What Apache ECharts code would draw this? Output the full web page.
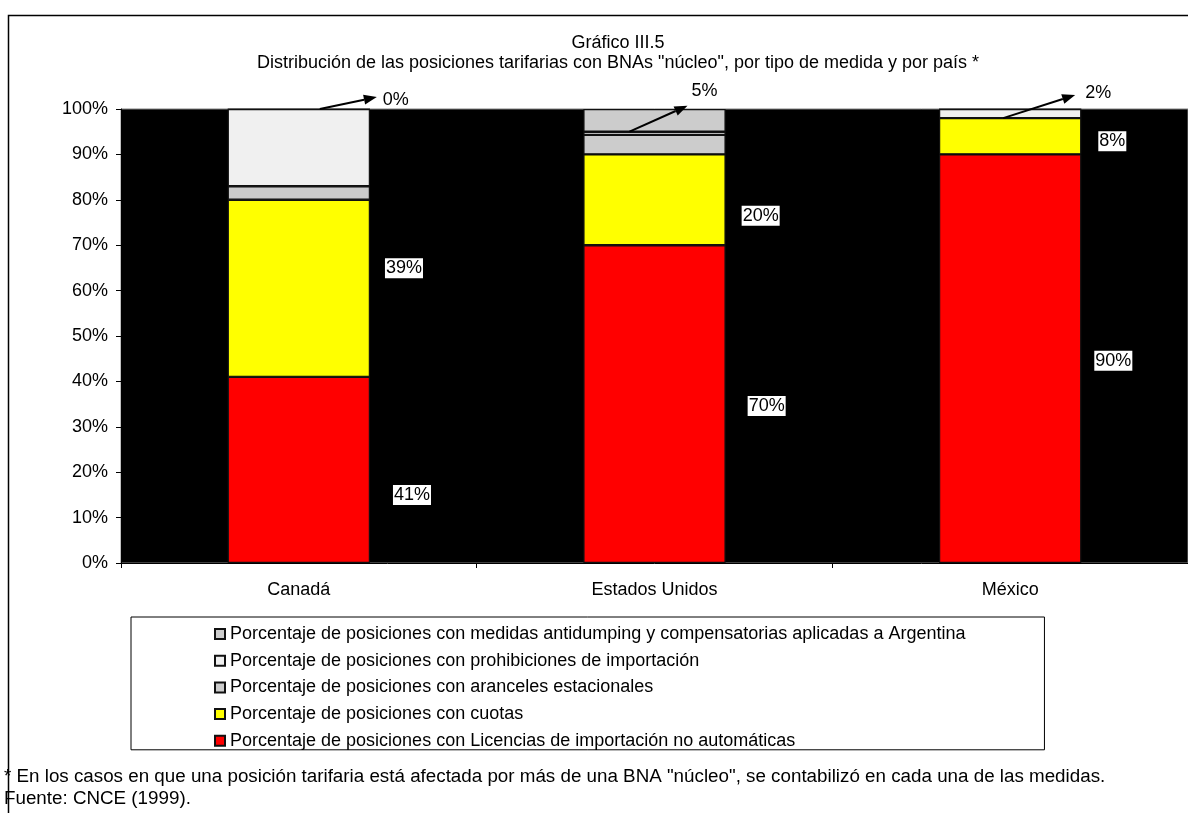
<!DOCTYPE html>
<html>
<head>
<meta charset="utf-8">
<script src="https://cdn.jsdelivr.net/npm/echarts@6/dist/echarts.min.js"></script>
<style>
  html, body { margin: 0; padding: 0; background: #fff; }
  #chart { width: 1188px; height: 813px; }
</style>
</head>
<body>
<div id="chart"></div>
<script>
// Países y porcentajes de posiciones por tipo de medida (suman 100% por país)
const countries     = ['Canadá', 'Estados Unidos', 'México'];
const licencias     = [41, 70, 90];
const cuotas        = [39, 20, 8];
const estacionales  = [3, 4.3, 0];
const prohibiciones = [17, 0.7, 2];
const antidumping   = [0, 5, 0];

// Serie cuyo valor se señala con flecha sobre cada barra
const calloutSeries = [4, 4, 3];

const seriesDefs = [
  { name: 'Porcentaje de posiciones con Licencias de importación no automáticas', data: licencias, color: '#ff0000' },
  { name: 'Porcentaje de posiciones con cuotas', data: cuotas, color: '#ffff00' },
  { name: 'Porcentaje de posiciones con aranceles estacionales', data: estacionales, color: '#cccccc' },
  { name: 'Porcentaje de posiciones con prohibiciones de importación', data: prohibiciones, color: '#f0f0f0' },
  { name: 'Porcentaje de posiciones con medidas antidumping y compensatorias aplicadas a Argentina', data: antidumping, color: '#cccccc' }
];

const FONT = '"Liberation Sans", Arial, sans-serif';
const FS = 18;

// Desplazamientos de las etiquetas laterales [serie][país]
const sideOffsets = [
  [[23, 25], [22, 2], [13, 2]],
  [[15, -20], [16, 16], [17, 5]]
];
// Desplazamientos de las etiquetas con flecha por país
const calloutLabelOffsets = [[97, 3], [50, -7], [88, -5]];
// Flechas: desplazamiento horizontal del origen y vector hasta la punta
const arrowGeom = [
  { sx: 21, dx: 57, dy: -12 },
  { sx: -25, dx: 58, dy: -26 },
  { sx: -7, dx: 72, dy: -23 }
];

const pct = v => Math.round(v) + '%';

const series = seriesDefs.map((s, si) => ({
  name: s.name,
  type: 'bar',
  stack: 'total',
  barWidth: '40%',
  itemStyle: { color: s.color, borderColor: '#111', borderWidth: 1.2 },
  emphasis: { disabled: true },
  data: s.data.map((v, ci) => {
    const item = { value: v };
    if (si < 2) {
      item.label = {
        show: true,
        position: 'right',
        distance: 0,
        offset: sideOffsets[si][ci],
        formatter: p => pct(p.value),
        color: '#000',
        fontFamily: FONT,
        fontSize: FS,
        lineHeight: 19,
        backgroundColor: '#fff',
        padding: [1, 1, 0, 1]
      };
    } else if (calloutSeries[ci] === si) {
      item.label = {
        show: true,
        position: 'top',
        distance: 2,
        offset: calloutLabelOffsets[ci],
        formatter: p => pct(p.value),
        color: '#000',
        fontFamily: FONT,
        fontSize: FS
      };
    }
    return item;
  })
}));

const chart = echarts.init(document.getElementById('chart'), null, { renderer: 'canvas' });

const option = {
  animation: false,
  backgroundColor: '#fff',
  textStyle: { fontFamily: FONT },
  title: {
    text: 'Gráfico III.5',
    subtext: 'Distribución de las posiciones tarifarias con BNAs "núcleo", por tipo de medida y por país *',
    left: 618,
    textAlign: 'center',
    top: 33,
    padding: 0,
    itemGap: 0,
    textStyle: { fontFamily: FONT, fontSize: FS, lineHeight: 20, fontWeight: 'normal', color: '#000' },
    subtextStyle: { fontFamily: FONT, fontSize: FS, lineHeight: 20, color: '#000' }
  },
  grid: {
    left: 121, right: -1, top: 109, bottom: 250,
    show: true, backgroundColor: '#000', borderColor: '#808080', borderWidth: 1
  },
  xAxis: {
    type: 'category',
    data: countries,
    axisLine: { show: true, lineStyle: { color: '#000' } },
    axisTick: { show: true, length: 5, lineStyle: { color: '#000' } },
    axisLabel: { color: '#000', fontFamily: FONT, fontSize: FS, margin: 18 }
  },
  yAxis: {
    type: 'value',
    min: 0, max: 100, interval: 10,
    axisLine: { show: true, lineStyle: { color: '#000' } },
    axisTick: { show: true, length: 5, lineStyle: { color: '#000' } },
    axisLabel: { color: '#000', fontFamily: FONT, fontSize: FS, margin: 13, formatter: '{value}%' },
    splitLine: { show: false }
  },
  legend: {
    orient: 'vertical',
    left: 131,
    top: 617,
    padding: [8, 79, 0, 83],
    borderColor: '#000',
    borderWidth: 1,
    itemWidth: 10,
    itemHeight: 10,
    itemGap: 8.7,
    icon: 'rect',
    selectedMode: false,
    data: seriesDefs.map(s => s.name).reverse(),
    textStyle: { color: '#000', fontFamily: FONT, fontSize: FS, lineHeight: 18 }
  },
  graphic: [
    {
      type: 'rect', z: 100, silent: true,
      shape: { x: 8.5, y: 15.5, width: 1300, height: 900 },
      style: { fill: null, stroke: '#000', lineWidth: 1.5 }
    },
    {
      type: 'text', left: 4, top: 767,
      style: {
        text: '* En los casos en que una posición tarifaria está afectada por más de una BNA "núcleo", se contabilizó en cada una de las medidas.',
        font: '18.8px ' + FONT, fill: '#000'
      }
    },
    {
      type: 'text', left: 4, top: 789,
      style: { text: 'Fuente: CNCE (1999).', font: '18.8px ' + FONT, fill: '#000' }
    }
  ],
  series: series
};

chart.setOption(option);

// Flechas que señalan el segmento superior de cada barra
function drawArrows() {
  const els = [];
  countries.forEach((c, ci) => {
    const si = calloutSeries[ci];
    let base = 0;
    for (let k = 0; k < si; k++) base += seriesDefs[k].data[ci];
    const p = chart.convertToPixel({ gridIndex: 0 }, [ci, base]);
    const g = arrowGeom[ci];
    const x1 = p[0] + g.sx, y1 = p[1];
    const x2 = x1 + g.dx, y2 = y1 + g.dy;
    const ang = Math.atan2(y2 - y1, x2 - x1);
    const L = 13, W = 5;
    const bx = x2 - L * Math.cos(ang), by = y2 - L * Math.sin(ang);
    const nx = -Math.sin(ang) * W, ny = Math.cos(ang) * W;
    els.push({
      type: 'line', z: 50, silent: true,
      shape: { x1: x1, y1: y1, x2: bx, y2: by },
      style: { stroke: '#000', lineWidth: 2 }
    });
    els.push({
      type: 'polygon', z: 50, silent: true,
      shape: { points: [[x2, y2], [bx + nx, by + ny], [bx - nx, by - ny]] },
      style: { fill: '#000' }
    });
  });
  chart.setOption({ graphic: option.graphic.concat(els) });
}
drawArrows();
</script>
</body>
</html>
